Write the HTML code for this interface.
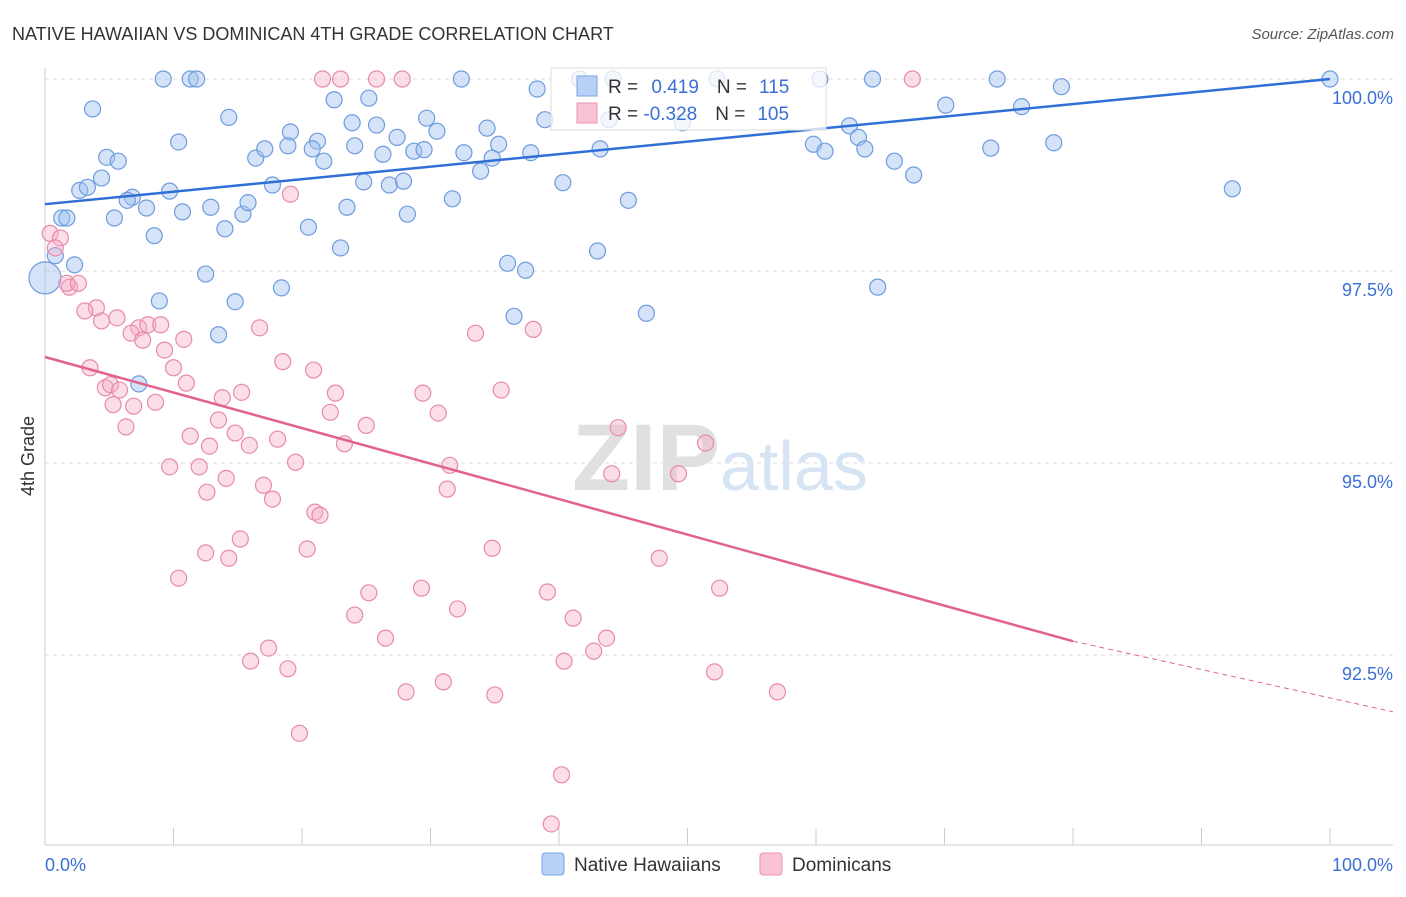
<!DOCTYPE html>
<html><head><meta charset="utf-8"><style>
body{margin:0;background:#fff;font-family:"Liberation Sans",sans-serif;}
svg text{font-family:"Liberation Sans",sans-serif;}
</style></head><body>
<svg id="chart" width="1406" height="892">
<text x="12" y="40" font-size="18" fill="#333">NATIVE HAWAIIAN VS DOMINICAN 4TH GRADE CORRELATION CHART</text>
<text x="1394" y="39" font-size="15" fill="#555" text-anchor="end" font-style="italic">Source: ZipAtlas.com</text>
<g id="grid"></g>
<text x="720" y="490" font-size="95" fill="#e6e6e6" text-anchor="middle" font-family="Liberation Serif"><tspan font-weight="bold" fill="#e0e0e0">ZIP</tspan><tspan fill="#d6e4f4" font-family="Liberation Sans" font-size="70">atlas</tspan></text>
<g id="points"></g>
<g id="lines"></g>
<text x="34" y="456" font-size="18" fill="#333" text-anchor="middle" transform="rotate(-90 34 456)">4th Grade</text>
<g>
<rect x="551" y="68" width="275" height="62" fill="rgba(255,255,255,0.75)" stroke="#ddd"/>
<rect x="577" y="76" width="20" height="20" fill="#b8d0f5" stroke="#7aa3e5"/>
<rect x="577" y="103" width="20" height="20" fill="#f8c4d4" stroke="#ea94b2"/>
<text x="608" y="93" font-size="19" fill="#333">R = <tspan fill="#3a70d6" dx="8">0.419</tspan><tspan dx="18" fill="#333">N =</tspan><tspan dx="12" fill="#3a70d6">115</tspan></text>
<text x="608" y="120" font-size="19" fill="#333">R = <tspan fill="#3a70d6">-0.328</tspan><tspan dx="18" fill="#333">N =</tspan><tspan dx="12" fill="#3a70d6">105</tspan></text>
</g>
<g>
<rect x="542" y="853" width="22" height="22" fill="#b8d0f5" stroke="#7aa3e5" rx="3"/>
<text x="574" y="871" font-size="19" fill="#333">Native Hawaiians</text>
<rect x="760" y="853" width="22" height="22" fill="#f8c4d4" stroke="#ea94b2" rx="3"/>
<text x="792" y="871" font-size="19" fill="#333">Dominicans</text>
</g>
<text x="45" y="871" font-size="18" fill="#3a70d6">0.0%</text>
<text x="1393" y="871" font-size="18" fill="#3a70d6" text-anchor="end">100.0%</text>
</svg>
<script>
const yTicks=[100,97.5,95,92.5];
const yTickLabels=["100.0%","97.5%","95.0%","92.5%"];
const xTicks=[0,10,20,30,40,50,60,70,80,90,100];
const blueX=[0,9.2,11.3,11.8,32.4,41.6,44.2,52.3,60.3,64.4,74.1,100,79.1,38.3,3.7,14.3,22.5,25.2,70.1,76.0,29.7,23.9,25.8,34.4,38.9,43.9,49.6,62.6,10.4,19.1,21.2,30.5,27.4,16.4,17.1,18.9,20.8,21.7,24.1,26.3,28.7,29.5,32.6,34.8,35.3,37.8,43.2,59.8,60.7,63.3,63.8,66.1,73.6,78.5,4.8,5.7,67.6,92.4,2.7,3.3,4.4,6.8,6.4,9.7,17.7,24.8,26.8,27.9,33.9,40.3,1.3,1.7,5.4,7.9,10.7,12.9,15.4,15.8,20.5,23.5,28.2,31.7,45.4,8.5,14.0,23.0,43.0,0.8,2.3,12.5,18.4,36.0,37.4,64.8,8.9,14.8,36.5,46.8,13.5,7.3];
const blueY=[97.41,100,100,100,100,100,100,100,100,100,100,100,99.9,99.87,99.61,99.5,99.73,99.75,99.66,99.64,99.49,99.43,99.4,99.36,99.47,99.47,99.43,99.39,99.18,99.31,99.19,99.32,99.24,98.97,99.09,99.13,99.09,98.93,99.13,99.02,99.06,99.08,99.04,98.97,99.15,99.04,99.09,99.15,99.06,99.24,99.09,98.93,99.1,99.17,98.98,98.93,98.75,98.57,98.55,98.59,98.71,98.46,98.42,98.54,98.62,98.66,98.62,98.67,98.8,98.65,98.19,98.19,98.19,98.32,98.27,98.33,98.24,98.39,98.07,98.33,98.24,98.44,98.42,97.96,98.05,97.8,97.76,97.7,97.58,97.46,97.28,97.6,97.51,97.29,97.11,97.1,96.91,96.95,96.67,96.03];
const pinkX=[21.6,23.0,25.8,27.8,67.5,0.4,1.2,0.8,19.1,1.9,1.7,2.6,4.0,3.1,4.4,5.6,7.3,6.7,8.0,7.6,9.0,10.8,9.3,16.7,33.5,38.0,3.5,10.0,18.5,20.9,4.7,5.1,5.8,11.0,15.3,22.6,29.4,35.5,5.3,6.9,8.6,13.8,22.2,30.6,6.3,11.3,12.8,13.5,14.8,15.9,18.1,23.3,25.0,44.6,51.4,9.7,12.0,14.1,19.5,31.5,44.1,49.3,12.6,17.0,17.7,31.3,21.0,21.4,15.2,20.4,34.8,47.8,12.5,14.3,10.4,25.2,29.3,39.1,52.5,24.1,32.1,41.1,26.5,43.7,42.7,17.4,16.0,18.9,40.4,52.1,28.1,31.0,35.0,57.0,19.8,40.2,39.4];
const pinkY=[100,100,100,100,100,97.99,97.93,97.8,98.5,97.29,97.34,97.34,97.02,96.98,96.85,96.89,96.76,96.69,96.8,96.6,96.8,96.61,96.47,96.76,96.69,96.74,96.24,96.24,96.32,96.21,95.98,96.02,95.95,96.04,95.92,95.91,95.91,95.95,95.76,95.74,95.79,95.85,95.66,95.65,95.47,95.35,95.22,95.56,95.39,95.23,95.31,95.25,95.49,95.46,95.26,94.95,94.95,94.8,95.01,94.97,94.86,94.86,94.62,94.71,94.53,94.66,94.36,94.32,94.01,93.88,93.89,93.76,93.83,93.76,93.5,93.31,93.37,93.32,93.37,93.02,93.1,92.98,92.72,92.72,92.55,92.59,92.42,92.32,92.42,92.28,92.02,92.15,91.98,92.02,91.48,90.94,90.3];
const blueLine=[[0,98.37],[100,100]];
const pinkLine=[[0,96.38],[80,92.68]];
const pinkDash=[[80,92.68],[104.9,91.76]];
const NS="http://www.w3.org/2000/svg";
const X=v=>45+v*12.85, Y=v=>79+(100-v)*76.8;
function mk(t,a,p){const e=document.createElementNS(NS,t);for(const k in a)e.setAttribute(k,a[k]);p.appendChild(e);return e;}
const grid=document.getElementById('grid');
mk('line',{x1:45,y1:68,x2:45,y2:845,stroke:'#ccc'},grid);
mk('line',{x1:45,y1:845,x2:1393,y2:845,stroke:'#ccc'},grid);
yTicks.forEach((t,i)=>{
 const l=mk('line',{x1:45,y1:Y(t),x2:1393,y2:Y(t),stroke:'#ddd','stroke-dasharray':'4,4'},grid);
 
 
 const tx=mk('text',{x:1393,y:Y(t)+25,'font-size':18,fill:'#3a70d6','text-anchor':'end'},grid);
 tx.textContent=yTickLabels[i];
 
 
});
xTicks.forEach(t=>{
 const l=mk('line',{x1:X(t),y1:828,x2:X(t),y2:845,stroke:'#ccc'},grid);
 
 
});
const pts=document.getElementById('points');
blueX.forEach((x,i)=>{
 const c=mk('circle',{cx:X(x),cy:Y(blueY[i]),r:i===0?16:8,fill:'rgba(160,192,240,0.45)',stroke:'#6f9be0','stroke-width':1.2},pts);
 
 
});
pinkX.forEach((x,i)=>{
 const c=mk('circle',{cx:X(x),cy:Y(pinkY[i]),r:8,fill:'rgba(246,172,198,0.4)',stroke:'#e88aab','stroke-width':1.2},pts);
 
 
});
const ln=document.getElementById('lines');
const b=mk('line',{x1:X(blueLine[0][0]),y1:Y(blueLine[0][1]),x2:X(blueLine[1][0]),y2:Y(blueLine[1][1]),stroke:'#2f6fd6','stroke-width':2.5},ln);


const p=mk('line',{x1:X(pinkLine[0][0]),y1:Y(pinkLine[0][1]),x2:X(pinkLine[1][0]),y2:Y(pinkLine[1][1]),stroke:'#e2628f','stroke-width':2.5},ln);


const d=mk('line',{x1:X(pinkDash[0][0]),y1:Y(pinkDash[0][1]),x2:X(pinkDash[1][0]),y2:Y(pinkDash[1][1]),stroke:'#e2628f','stroke-width':1,'stroke-dasharray':'5,4'},ln);


</script>
</body></html>
